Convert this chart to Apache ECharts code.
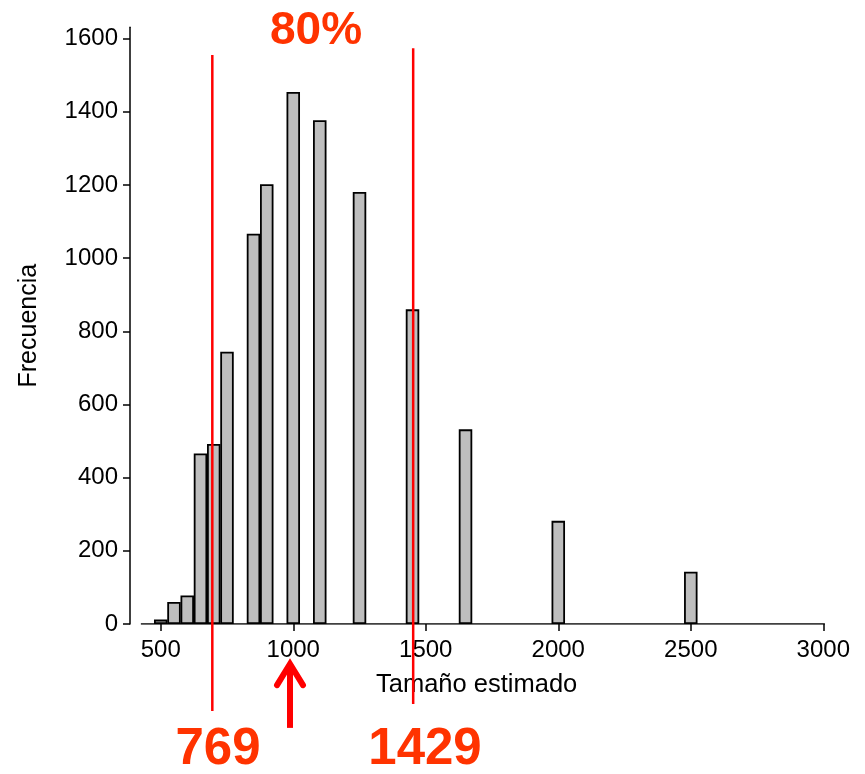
<!DOCTYPE html>
<html>
<head>
<meta charset="utf-8">
<script src="https://cdn.jsdelivr.net/npm/echarts@6/dist/echarts.min.js"></script>
<style>
  html, body { margin: 0; padding: 0; background: #fff; }
  #chart { width: 865px; height: 774px; }
</style>
</head>
<body>
<div id="chart"></div>
<script>
// histograma de tamaños estimados
const binCenters = [500, 550, 600, 650, 700, 750, 850, 900, 1000, 1100, 1250, 1450, 1650, 2000, 2500];
const counts = [12, 60, 78, 466, 492, 744, 1067, 1202, 1454, 1377, 1181, 860, 532, 282, 143];

const xTicks = [500, 1000, 1500, 2000, 2500, 3000];
const yTicks = [0, 200, 400, 600, 800, 1000, 1200, 1400, 1600];

// linea base de los bins vacios
const baseline = [425, 3006];

// lineas rojas del intervalo (posicion) y sus extremos en y
const cutLow = 694.6;
const cutLowSpan = [-238, 1555];
const cutHigh = 1452.5;
const cutHighSpan = [-219, 1574];

// flecha bajo el eje
const arrowX = 987.7;
const arrowShaft = [-284, -112];
const arrowHead = [[938.7, -167], [987.7, -109], [1036.7, -167]];

const labelLow = '769';
const labelHigh = '1429';
const labelPct = '80%';

const FONT = '"Liberation Sans", Arial, sans-serif';
const ORANGE = '#ff3300';

let myChart = echarts.init(document.getElementById('chart'));

myChart.setOption({
    animation: false,
    grid: {
        left: 130,
        right: 41.7,
        top: 27.3,
        bottom: 150
    },
    xAxis: {
        type: 'value',
        min: 384,
        max: 3000,
        name: 'Tamaño estimado',
        nameLocation: 'middle',
        nameGap: 48,
        nameTextStyle: { fontFamily: FONT, fontSize: 25.5, color: '#000' },
        axisLine: { show: false },
        axisTick: {
            show: true,
            length: 7,
            customValues: xTicks,
            lineStyle: { color: '#000', width: 1.5 }
        },
        axisLabel: {
            customValues: xTicks,
            formatter: v => String(v),
            margin: 14,
            fontFamily: FONT,
            fontSize: 24,
            color: '#000'
        },
        splitLine: { show: false }
    },
    yAxis: {
        type: 'value',
        min: 0,
        max: 1631,
        name: 'Frecuencia',
        nameLocation: 'middle',
        nameGap: 88,
        nameTextStyle: { fontFamily: FONT, fontSize: 25, color: '#000' },
        axisLine: { show: true, lineStyle: { color: '#000', width: 1.5 } },
        axisTick: {
            show: true,
            length: 7,
            customValues: yTicks,
            lineStyle: { color: '#000', width: 1.5 }
        },
        axisLabel: {
            customValues: yTicks,
            formatter: v => String(v),
            margin: 12,
            fontFamily: FONT,
            fontSize: 24,
            color: '#000'
        },
        splitLine: { show: false }
    },
    series: [
        {
            type: 'line',
            data: baseline.map(x => [x, 0]),
            symbol: 'none',
            lineStyle: { color: '#000', width: 1.5 },
            z: 1
        },
        {
            type: 'bar',
            data: binCenters.map((x, i) => [x, counts[i]]),
            barWidth: 13.5,
            itemStyle: { color: '#bebebe', borderColor: '#000', borderWidth: 1.8 },
            z: 2
        },
        {
            type: 'line',
            clip: false,
            data: cutLowSpan.map(y => [cutLow, y]),
            symbol: 'none',
            lineStyle: { color: '#ff0000', width: 2.5 },
            z: 5
        },
        {
            type: 'line',
            clip: false,
            data: cutHighSpan.map(y => [cutHigh, y]),
            symbol: 'none',
            lineStyle: { color: '#ff0000', width: 2.5 },
            z: 5
        },
        {
            type: 'line',
            clip: false,
            data: arrowShaft.map(y => [arrowX, y]),
            symbol: 'none',
            lineStyle: { color: '#ff0000', width: 6 },
            z: 5
        },
        {
            type: 'line',
            clip: false,
            data: arrowHead,
            symbol: 'none',
            lineStyle: { color: '#ff0000', width: 6, cap: 'round', join: 'miter' },
            z: 5
        }
    ],
    graphic: [
        {
            type: 'text',
            x: 316, y: 31,
            style: {
                text: labelPct, fill: ORANGE,
                font: 'bold 46px ' + FONT,
                align: 'center', verticalAlign: 'middle'
            }
        },
        {
            type: 'text',
            x: 218, y: 750,
            style: {
                text: labelLow, fill: ORANGE,
                font: 'bold 51px ' + FONT,
                align: 'center', verticalAlign: 'middle'
            }
        },
        {
            type: 'text',
            x: 425, y: 750,
            style: {
                text: labelHigh, fill: ORANGE,
                font: 'bold 51px ' + FONT,
                align: 'center', verticalAlign: 'middle'
            }
        }
    ]
});
</script>
</body>
</html>
